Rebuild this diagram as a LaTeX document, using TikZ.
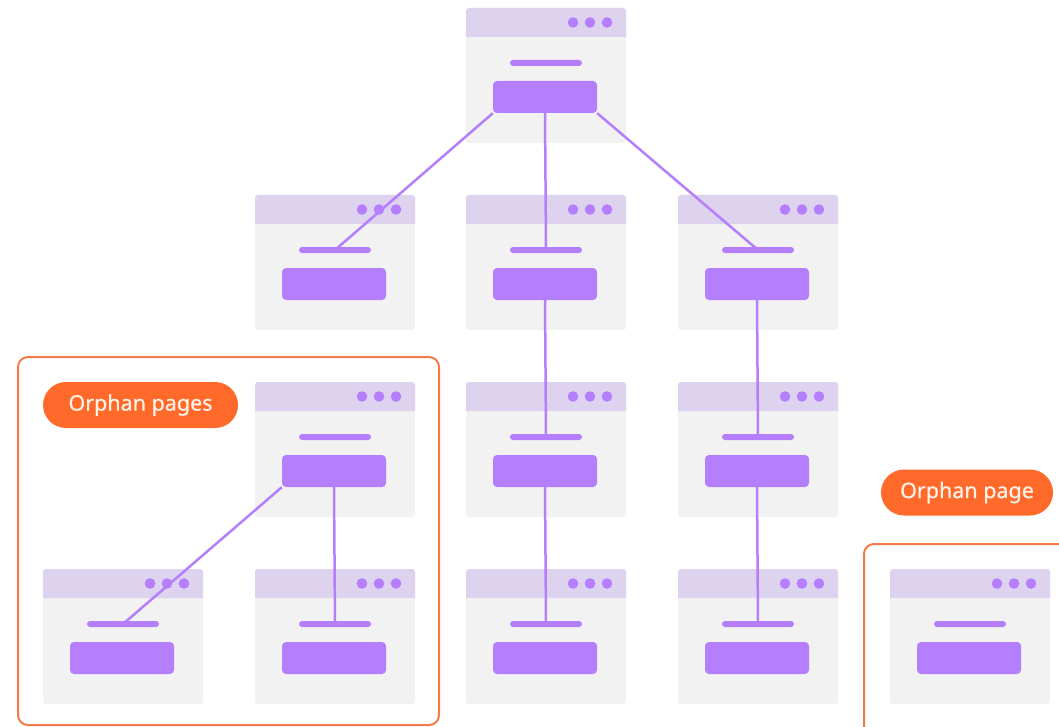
\documentclass[tikz,border=0pt]{standalone}
\usepackage{fontspec}
\setmainfont{Noto Sans}
\newfontfamily\pillfont[FakeBold=0.7]{Noto Sans}
\definecolor{hdr}{HTML}{DED3EF}
\definecolor{bodyc}{HTML}{F2F2F3}
\definecolor{pur}{HTML}{B47EFC}
\definecolor{orfill}{HTML}{FF6A2B}
\definecolor{orline}{HTML}{F47A4A}
\definecolor{pilltext}{HTML}{FFF1E6}
\tikzset{
  winbody/.style={fill=bodyc, rounded corners=3pt, minimum width=160pt, minimum height=135pt, inner sep=0pt},
  barst/.style={fill=pur, rounded corners=3pt, minimum width=72pt, minimum height=6pt, inner sep=0pt},
  btnst/.style={fill=pur, rounded corners=4pt, minimum width=104pt, minimum height=32pt, inner sep=0pt},
  conn/.style={draw=pur, line width=2.5pt},
  orbox/.style={draw=orline, line width=2pt, rounded corners=10pt},
  pill/.style={fill=orfill, rounded corners=23pt, minimum height=46pt, inner sep=0pt, text=pilltext, font=\pillfont\fontsize{21.5}{24}\selectfont}
}
\newcommand\pagewin[3]{%
  \node[winbody] (#1) at (#2+80,#3+67.5) {};
  \fill[hdr] (#2,#3+29) [rounded corners=3pt] -- (#2,#3) -- (#2+160,#3) [sharp corners] -- (#2+160,#3+29) -- cycle;
  \fill[pur] (#2+107,#3+14.5) circle (5.3pt);
  \fill[pur] (#2+124,#3+14.5) circle (5.3pt);
  \fill[pur] (#2+141,#3+14.5) circle (5.3pt);
  \node[barst] (#1b) at (#2+80,#3+55) {};
  \node[btnst] (#1k) at (#2+79,#3+89) {};
}
\begin{document}
\begin{tikzpicture}[x=1pt,y=-1pt]
\fill[white] (0,0) rectangle (1059,727);
\useasboundingbox (0,0) rectangle (1059,727);
\pagewin{A}{466}{8}
\pagewin{Ba}{255}{195}
\pagewin{Bb}{466}{195}
\pagewin{Bc}{678}{195}
\pagewin{Ca}{255}{382}
\pagewin{Cb}{466}{382}
\pagewin{Cc}{678}{382}
\pagewin{Dz}{43}{569}
\pagewin{Da}{255}{569}
\pagewin{Db}{466}{569}
\pagewin{Dc}{678}{569}
\pagewin{E}{890}{569}
% connectors
\draw[conn] (Ak.south west) -- (Bab.center);
\draw[conn] (Ak.south) -- (Bbb.center);
\draw[conn] (Ak.south east) -- (Bcb.center);
\draw[conn] (Bbk.south) -- (Cbb.center);
\draw[conn] (Cbk.south) -- (Dbb.center);
\draw[conn] (Bck.south) -- (Ccb.center);
\draw[conn] (Cck.south) -- (Dcb.center);
\draw[conn] (Cak.south west) -- (Dzb.center);
\draw[conn] (Cak.south) -- (Dab.center);
% orphan frames
\draw[orbox] (18,357) rectangle (439,725);
\draw[orbox] (864,544) rectangle (1075,745);
\node[pill, minimum width=195pt] (lp) at (140.5,405) {Orphan pages};
\node[pill, minimum width=172pt] (rp) at (967,492.5) {Orphan page};
\end{tikzpicture}
\end{document}
